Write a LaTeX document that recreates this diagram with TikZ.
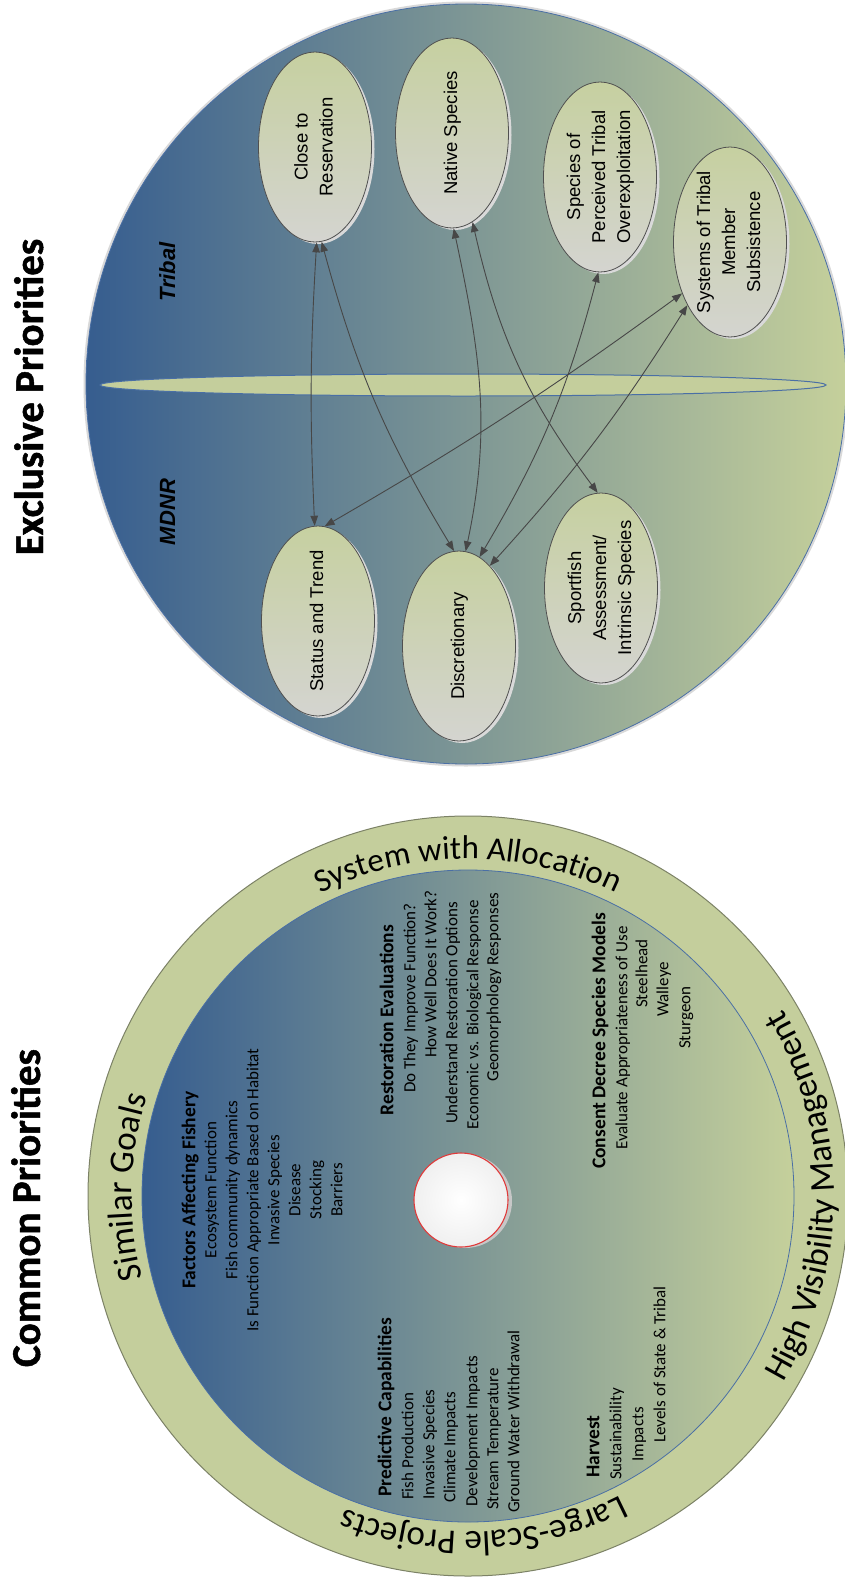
\documentclass[tikz,border=0pt]{standalone}
\usepackage{fontspec}
\setmainfont{Carlito}
\newfontfamily\ovalfont{Liberation Sans}
\newfontfamily\headfont{Carlito}[BoldFeatures={FakeBold=1.2}]
\usetikzlibrary{arrows.meta,decorations.text,shapes.geometric,calc}

\definecolor{deepblue}{HTML}{365D8F}
\definecolor{palegreen}{HTML}{C5D09B}
\definecolor{ringgreen}{HTML}{C4CE9C}
\definecolor{ringedge}{HTML}{7C8266}
\definecolor{rimblue}{HTML}{4A6FA5}
\definecolor{ovalgreen}{HTML}{C6D0A0}
\definecolor{ovalgrey}{HTML}{D4D4D0}
\definecolor{ovaledge}{HTML}{505050}
\definecolor{linkgrey}{HTML}{474747}
\definecolor{hubred}{HTML}{E03A3A}

% zero-width centred block, so every oval keeps its fixed size
\newcommand{\ovaltext}[1]{\makebox[0pt]{\begin{tabular}{@{}c@{}}#1\end{tabular}}}
\newcommand{\ringfont}{\fontsize{35}{35}\selectfont}
\newcommand{\ringfontsmall}{\fontsize{33}{33}\selectfont}

\tikzset{
  oval/.style={ellipse, rotate=90, minimum width=190pt, minimum height=113pt,
    inner sep=0pt, top color=ovalgreen, bottom color=ovalgrey,
    draw=ovaledge, line width=0.8pt,
    font=\ovalfont\fontsize{18.5}{25}\selectfont,
    preaction={fill=black!15, transform canvas={shift={(3pt,-2pt)}}}},
  link/.style={{Triangle[length=10pt,width=7.5pt]}-{Triangle[length=10pt,width=7.5pt]},
    draw=linkgrey, line width=0.9pt},
  side/.style={rotate=90, anchor=base, inner sep=0pt,
    font=\ovalfont\bfseries\itshape\fontsize{22}{22}\selectfont},
  heading/.style={rotate=90, anchor=base, inner sep=0pt,
    font=\headfont\bfseries\fontsize{41}{41}\selectfont},
  entry/.style={rotate=90, inner sep=0pt, font=\fontsize{17}{21}\selectfont},
  lead/.style={entry, font=\bfseries\fontsize{19.5}{21}\selectfont},
  ringtext/.style={decorate, decoration={text along path, text align=center, text={#1}}},
}

\begin{document}
\begin{tikzpicture}[x=1pt, y=1pt]
\useasboundingbox (0,0) rectangle (844,-1577);
\fill[white] (0,0) rectangle (844,-1577);

% ---------------- headings ----------------
\node[heading] (exclhead) at (43,-397) {Exclusive Priorities};
\node[heading] (commhead) at (40,-1208) {Common Priorities};

% ---------------- exclusive priorities disc ----------------
\draw[black!15, line width=3pt] (466,-384) circle (381);
\shade[left color=deepblue, right color=palegreen] (466,-384) circle (380);
\draw[rimblue, line width=0.8pt] (466,-384) circle (380);
\filldraw[fill=ringgreen, draw=rimblue, line width=1pt]
  (463,-385) ellipse [x radius=363, y radius=11];

\node[side] (tribal) at (175,-272) {Tribal};
\node[side] (mdnr) at (175,-512) {MDNR};

\node[oval] (close)   at (315,-147) {\ovaltext{Close to\\Reservation}};
\node[oval] (native)  at (452,-133) {\ovaltext{Native Species}};
\node[oval] (overex)  at (600,-177) {\ovaltext{Species of\\Perceived Tribal\\Overexploitation}};
\node[oval] (subsist) at (730,-242) {\ovaltext{Systems of Tribal\\Member\\Subsistence}};
\node[oval] (status)  at (318,-621) {\ovaltext{Status and Trend}};
\node[oval] (discr)   at (459,-646) {\ovaltext{Discretionary}};
\node[oval] (sport)   at (601,-588) {\ovaltext{Sportfish\\Assessment/\\Intrinsic Species}};

\draw[link] (close.181) to[bend right=3] (status.2);
\draw[link] (close.184) to[bend right=8] (discr.3);
\draw[link] (native.181) to[out=-78, in=78] (discr.-4);
\draw[link] (native.193) to[bend right=12] (sport.2);
\draw[link] (overex.179) to[bend left=8] (discr.-13);
\draw[link] (subsist.137) to[bend left=3] (status.-4);
\draw[link] (subsist.146) to[bend left=5] (discr.-21);

% ---------------- common priorities disc ----------------
\coordinate (ringc) at (468,-1196);
\filldraw[fill=ringgreen, draw=ringedge, line width=1pt] (ringc) circle (380);
\shade[left color=deepblue, right color=palegreen] (ringc) circle (326);
\draw[rimblue, line width=0.8pt] (ringc) circle (326);

\path[ringtext={|\ringfontsmall|System with Allocation}]
  ($(ringc)+(170:337)$) arc[start angle=170, end angle=10, radius=337];
\path[ringtext={|\ringfont|Similar Goals}]
  ($(ringc)+(258.5:336)$) arc[start angle=258.5, end angle=98.5, radius=336];
\path[ringtext={|\ringfont|Large-Scale Projects}]
  ($(ringc)+(-7.3:336)$) arc[start angle=-7.3, end angle=-167.3, radius=336];
\path[ringtext={|\ringfont|High Visibility Management}]
  ($(ringc)+(-80:366)$) arc[start angle=-80, end angle=80, radius=366];

\node[circle, minimum size=94pt, inner sep=0pt, draw=hubred, line width=1.1pt,
  inner color=white, outer color=black!6,
  preaction={fill=black!22, transform canvas={shift={(4pt,-1pt)}}}] (hubdisc) at (461,-1200) {};

% factors affecting the fishery
\node[entry, align=center] (factors) at (262,-1190)
  {{\bfseries\fontsize{19.5}{21}\selectfont Factors Affecting Fishery}\\
   Ecosystem Function\\ Fish community dynamics\\
   Is Function Appropriate Based on Habitat\\ Invasive Species\\
   Disease\\ Stocking\\ Barriers};

% restoration evaluations
\node[lead,  anchor=mid] (rest0) at (391,-1020) {Restoration Evaluations};
\node[entry, anchor=mid] (rest1) at (413,-998)  {Do They Improve Function?};
\node[entry, anchor=mid] (rest2) at (434,-974)  {How Well Does It Work?};
\node[entry, anchor=mid] (rest3) at (455,-1013) {Understand Restoration Options};
\node[entry, anchor=mid] (rest4) at (476,-1015) {Economic vs. Biological Response};
\node[entry, anchor=mid] (rest5) at (496,-987)  {Geomorphology Responses};

% predictive capabilities
\node[lead,  anchor=mid west] (pred0) at (389,-1497) {Predictive Capabilities};
\node[entry, anchor=mid west] (pred1) at (411,-1500) {Fish Production};
\node[entry, anchor=mid west] (pred2) at (432,-1500) {Invasive Species};
\node[entry, anchor=mid west] (pred3) at (453,-1503) {Climate Impacts};
\node[entry, anchor=mid west] (pred4) at (475,-1507) {Development Impacts};
\node[entry, anchor=mid west] (pred5) at (496,-1510) {Stream Temperature};
\node[entry, anchor=mid west] (pred6) at (517,-1513) {Ground Water Withdrawal};

% harvest
\node[lead,  anchor=mid west] (harv0) at (597,-1478) {Harvest};
\node[entry, anchor=mid west] (harv1) at (619,-1480) {Sustainability};
\node[entry, anchor=mid west] (harv2) at (641,-1462) {Impacts};
\node[entry, anchor=mid west] (harv3) at (663,-1443) {Levels of State \& Tribal};

% consent decree species models
\node[lead,  anchor=mid west] (cons0) at (603,-1169) {Consent Decree Species Models};
\node[entry, anchor=mid west] (cons1) at (625,-1150) {Evaluate Appropriateness of Use};
\node[entry, anchor=mid west] (cons2) at (645,-1008) {Steelhead};
\node[entry, anchor=mid west] (cons3) at (666,-1017) {Walleye};
\node[entry, anchor=mid west] (cons4) at (688,-1049) {Sturgeon};
\end{tikzpicture}
\end{document}
